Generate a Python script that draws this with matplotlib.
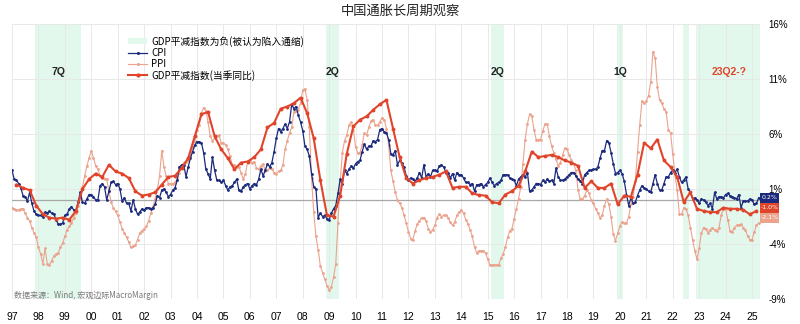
import matplotlib
matplotlib.use("Agg")
import matplotlib.pyplot as plt
import matplotlib.transforms as mtrans
from matplotlib.patches import Patch, Rectangle
from matplotlib.lines import Line2D

plt.rcParams['font.family'] = ['Noto Sans CJK SC', 'DejaVu Sans']

# ---- data -------------------------------------------------------------
# monthly series start in July 1997, quarterly series start in 1997Q3
first_month = (1997, 7)
first_quarter = (1997, 3)

cpi = [
    2.7, 1.9, 1.8, 1.5, 1.1, 0.4,                                   # 1997H2
    0.3, -0.1, 0.7, -0.3, -1.0, -1.3, -1.4, -1.4, -1.5, -1.1, -1.2, -1.0,   # 1998
    -1.2, -1.3, -1.8, -2.2, -2.2, -2.1, -1.4, -1.3, -0.8, -0.6, -0.9, -1.0,  # 1999
    -0.2, 0.7, -0.2, -0.3, 0.1, 0.5, 0.5, 0.3, 0.0, 0.0, 1.3, 1.5,       # 2000
    1.2, 0.0, 0.8, 1.6, 1.7, 1.4, 1.5, 1.0, -0.1, 0.2, -0.3, -0.3,       # 2001
    -1.0, 0.0, -0.8, -1.3, -1.1, -0.8, -0.9, -0.7, -0.7, -0.8, -0.7, -0.4,  # 2002
    0.4, 0.2, 0.9, 1.0, 0.7, 0.3, 0.5, 0.9, 1.1, 1.8, 3.0, 3.2,          # 2003
    3.2, 2.1, 3.0, 3.8, 4.4, 5.0, 5.3, 5.3, 5.2, 4.3, 2.8, 2.4,          # 2004
    1.9, 3.9, 2.7, 1.8, 1.8, 1.6, 1.8, 1.3, 0.9, 1.2, 1.3, 1.6,          # 2005
    1.9, 0.9, 0.8, 1.2, 1.4, 1.5, 1.0, 1.3, 1.5, 1.4, 1.9, 2.8,          # 2006
    2.2, 2.7, 3.3, 3.0, 3.4, 4.4, 5.6, 6.5, 6.2, 6.5, 6.9, 6.5,          # 2007
    7.1, 8.7, 8.3, 8.5, 7.7, 7.1, 6.3, 4.9, 4.6, 4.0, 2.4, 1.2,          # 2008
    1.0, -1.6, -1.2, -1.5, -1.4, -1.7, -1.8, -1.2, -0.8, -0.5, 0.6, 1.9,  # 2009
    1.5, 2.7, 2.4, 2.8, 3.1, 2.9, 3.3, 3.5, 3.6, 4.4, 5.1, 4.6,          # 2010
    4.9, 4.9, 5.4, 5.3, 5.5, 6.4, 6.5, 6.2, 6.1, 5.5, 4.2, 4.1,          # 2011
    4.5, 3.2, 3.6, 3.4, 3.0, 2.2, 1.8, 2.0, 1.9, 1.7, 2.0, 2.5,          # 2012
    2.0, 3.2, 2.1, 2.4, 2.1, 2.7, 2.7, 2.6, 3.1, 3.2, 3.0, 2.5,          # 2013
    2.5, 2.0, 2.4, 1.8, 2.5, 2.3, 2.3, 2.0, 1.6, 1.6, 1.4, 1.5,          # 2014
    0.8, 1.4, 1.4, 1.5, 1.2, 1.4, 1.6, 2.0, 1.6, 1.3, 1.5, 1.6,          # 2015
    1.8, 2.3, 2.3, 2.3, 2.0, 1.9, 1.8, 1.3, 1.9, 2.1, 2.3, 2.1,          # 2016
    2.5, 0.8, 0.9, 1.2, 1.5, 1.5, 1.4, 1.8, 1.6, 1.9, 1.7, 1.8,          # 2017
    1.5, 2.9, 2.1, 1.8, 1.8, 1.9, 2.1, 2.3, 2.5, 2.5, 2.2, 1.9,          # 2018
    1.7, 1.5, 2.3, 2.5, 2.7, 2.7, 2.8, 2.8, 3.0, 3.8, 4.5, 4.5,          # 2019
    5.4, 5.2, 4.3, 3.3, 2.4, 2.5, 2.7, 2.4, 1.7, 0.5, -0.5, 0.2,         # 2020
    -0.3, -0.2, 0.4, 0.9, 1.3, 1.1, 1.0, 0.8, 0.7, 1.5, 2.3, 1.5,        # 2021
    0.9, 0.9, 1.5, 2.1, 2.1, 2.5, 2.7, 2.5, 2.8, 2.1, 1.6, 1.8,          # 2022
    2.1, 1.0, 0.7, 0.1, 0.2, 0.0, -0.3, 0.1, 0.0, -0.2, -0.5, -0.3,      # 2023
    -0.8, 0.7, 0.1, 0.3, 0.3, 0.2, 0.5, 0.6, 0.4, 0.3, 0.2, 0.1,         # 2024
    0.5, -0.7, -0.1, -0.1, -0.1, 0.1, 0.0, -0.4, -0.3, 0.2,              # 2025
]

ppi = [
    -0.7, -0.8, -0.9, -0.9, -0.8, -0.8,                                  # 1997H2
    -1.2, -1.6, -1.9, -2.5, -3.0, -3.4, -4.3, -4.9, -5.8, -4.4, -5.8, -5.9,  # 1998
    -5.5, -5.1, -4.9, -4.8, -4.3, -3.9, -3.3, -2.7, -2.4, -2.1, -1.6, -1.2,  # 1999
    -0.5, 0.1, 1.2, 2.2, 3.1, 3.8, 4.5, 3.8, 3.1, 2.8, 2.2, 2.0,         # 2000
    1.9, 1.9, 0.8, -0.2, -0.7, -1.0, -1.4, -2.0, -2.6, -3.0, -3.4, -3.8,  # 2001
    -4.3, -4.2, -4.1, -3.6, -3.0, -2.8, -2.6, -2.4, -1.9, -1.2, -0.6, 0.1,  # 2002
    1.0, 2.2, 4.5, 3.0, 2.2, 1.5, 1.5, 1.5, 1.6, 1.9, 2.5, 3.1,          # 2003
    3.4, 3.5, 3.6, 4.0, 4.8, 5.4, 6.4, 6.8, 7.9, 8.4, 8.1, 7.1,          # 2004
    5.8, 5.4, 5.6, 5.8, 5.9, 5.2, 5.2, 5.0, 4.6, 4.0, 3.2, 3.2,          # 2005
    3.0, 3.0, 2.5, 1.9, 2.4, 3.5, 3.6, 3.4, 3.5, 2.9, 2.8, 3.1,          # 2006
    3.3, 2.6, 2.7, 2.9, 2.8, 2.5, 2.4, 2.6, 2.7, 3.2, 4.6, 5.4,          # 2007
    6.1, 6.6, 8.0, 8.1, 8.2, 8.8, 10.0, 10.1, 9.1, 6.6, 2.0, -1.1,       # 2008
    -3.3, -4.5, -6.0, -6.6, -7.2, -7.8, -8.2, -7.9, -7.0, -5.8, -2.1, 1.7,  # 2009
    4.3, 5.4, 5.9, 6.8, 7.1, 6.4, 4.8, 4.3, 4.3, 5.0, 6.1, 5.9,          # 2010
    6.6, 7.2, 7.3, 6.8, 6.8, 7.1, 7.5, 7.3, 6.5, 5.0, 2.7, 1.7,          # 2011
    0.7, 0.0, -0.3, -0.7, -1.4, -2.1, -2.9, -3.5, -3.6, -2.8, -2.2, -1.9,  # 2012
    -1.6, -1.6, -1.9, -2.6, -2.9, -2.7, -2.3, -1.6, -1.3, -1.5, -1.4, -1.4,  # 2013
    -1.6, -2.0, -2.3, -2.0, -1.4, -1.1, -0.9, -1.2, -1.8, -2.2, -2.7, -3.3,  # 2014
    -4.3, -4.8, -4.6, -4.6, -4.6, -4.8, -5.4, -5.9, -5.9, -5.9, -5.9, -5.9,  # 2015
    -5.3, -4.9, -4.3, -3.4, -2.8, -2.6, -1.7, -0.8, 0.1, 1.2, 3.3, 5.5,  # 2016
    6.9, 7.8, 7.6, 6.4, 5.5, 5.5, 5.5, 6.3, 6.9, 6.9, 5.8, 4.9,          # 2017
    4.3, 3.7, 3.1, 3.4, 4.1, 4.7, 4.6, 4.1, 3.6, 3.3, 2.7, 0.9,          # 2018
    0.1, 0.1, 0.4, 0.9, 0.6, 0.0, -0.3, -0.8, -1.2, -1.6, -1.4, -0.5,    # 2019
    0.1, -0.4, -1.5, -3.1, -3.7, -3.0, -2.4, -2.0, -2.1, -2.1, -1.5, -0.4,  # 2020
    0.3, 1.7, 4.4, 6.8, 9.0, 8.8, 9.0, 9.5, 10.7, 13.5, 12.9, 10.3,      # 2021
    9.1, 8.8, 8.3, 8.0, 6.4, 6.1, 4.2, 2.3, 0.9, -1.3, -1.3, -0.7,       # 2022
    -0.8, -1.4, -2.5, -3.6, -4.6, -5.4, -4.4, -3.0, -2.5, -2.6, -3.0, -2.7,  # 2023
    -2.5, -2.7, -2.8, -2.5, -1.4, -0.8, -0.8, -1.8, -2.8, -2.9, -2.5, -2.3,  # 2024
    -2.3, -2.2, -2.5, -2.7, -3.3, -3.6, -3.6, -2.9, -2.3, -2.1,          # 2025
]

# GDP deflator, single-quarter YoY, 1997Q3 .. 2025Q3
gdp_deflator = [
    1.4, 1.1,                          # 1997
    0.9, -0.5, -1.3, -1.6,             # 1998
    -1.7, -1.6, -1.8, -1.0,            # 1999
    1.0, 1.9, 2.4, 2.1,                # 2000
    3.2, 2.6, 2.4, 2.0,                # 2001
    0.8, 0.4, 0.5, 0.7,                # 2002
    1.4, 2.1, 2.2, 2.9,                # 2003
    3.8, 5.8, 7.8, 8.0,                # 2004
    5.8, 4.6, 3.8, 2.8,                # 2005
    3.4, 3.5, 3.9, 4.6,                # 2006
    6.6, 7.0, 8.3, 8.5,                # 2007
    8.8, 9.3, 7.9, 5.6,                # 2008
    1.8, -1.4, -1.5, 0.4,              # 2009
    4.2, 6.7, 7.3, 7.6,                # 2010
    8.2, 8.7, 9.1, 6.5,                # 2011
    3.9, 2.0, 1.5, 1.8,                # 2012
    2.0, 2.1, 2.3, 2.6,                # 2013
    1.1, 1.2, 1.2, 0.6,                # 2014
    0.45, 0.4, -0.2, -0.3,             # 2015
    0.5, 0.8, 1.3, 2.6,                # 2016
    4.4, 3.9, 4.0, 4.1,                # 2017
    3.9, 3.6, 3.4, 3.1,                # 2018
    1.1, 1.7, 1.1, 1.1,                # 2019
    1.5, -0.4, 0.4, 0.3,               # 2020
    2.3, 5.2, 4.7, 5.5,                # 2021
    3.6, 3.0, 2.1, -0.2,               # 2022
    0.7, -0.8, -1.0, -1.1,             # 2023
    -1.1, -0.7, -0.8, -0.8,            # 2024
    -0.9, -1.3, -1.0,                  # 2025
]

year_labels = [f"{y % 100:02d}" for y in range(1997, 2026)]
y_ticks = [-9, -4, 1, 6, 11, 16]
run_labels = ["7Q", "2Q", "2Q", "1Q", None, "23Q2-?"]

title = "中国通胀长周期观察"
source = "数据来源：Wind, 宏观边际MacroMargin"
legend_labels = ["GDP平减指数为负(被认为陷入通缩)", "CPI", "PPI", "GDP平减指数(当季同比)"]

# ---- styling ----------------------------------------------------------
C_CPI = "#1c2a7c"
C_PPI = "#eba38d"
C_GDP = "#e0452b"
C_SHADE = "#e2f8ed"
C_GRID = "#e8e8e8"

# ---- time coordinates (decimal years, month start) ---------------------
t0_m = first_month[0] + (first_month[1] - 1) / 12
t_month = [t0_m + k / 12 for k in range(len(cpi))]
# quarterly points sit on the quarter's last month
t0_q = first_quarter[0] + (3 * first_quarter[1] - 1) / 12
t_quarter = [t0_q + 0.25 * k for k in range(len(gdp_deflator))]

fig = plt.figure(figsize=(8.0, 3.24), dpi=100)
ax = fig.add_axes([12 / 800, 25 / 324, 748 / 800, 275 / 324])
ax.set_xlim(1997.5, 1997.5 + 748 / 26.43)
ax.set_ylim(-9, 16)

# shaded quarters where the deflator is negative (merged into runs)
runs = []
for t, v in zip(t_quarter, gdp_deflator):
    if v < 0:
        lo, hi = t + 1 / 12 - 0.125, t + 1 / 12 + 0.125
        if runs and abs(runs[-1][1] - lo) < 1e-6:
            runs[-1][1] = hi
        else:
            runs.append([lo, hi])
for (lo, hi), lab in zip(runs, run_labels):
    ax.axvspan(lo, hi, color=C_SHADE, lw=0, zorder=0)
    if lab:
        ax.text((lo + hi) / 2, 11.6, lab, ha="center", va="center",
                fontsize=7.5, fontweight="bold",
                color=C_GDP if "?" in lab else "#222222",
                family=["Liberation Sans", "DejaVu Sans"], zorder=5)

# grid
for yt in y_ticks:
    ax.axhline(yt, color=C_GRID, lw=0.7, zorder=0.5)
for k in range(len(year_labels)):
    ax.axvline(1997.5 + k, color=C_GRID, lw=0.7, zorder=0.5)
ax.axhline(0, color="#a8a8a8", lw=0.9, zorder=1)

# series
ax.plot(t_month, ppi, color=C_PPI, lw=0.8, marker="o", ms=1.0, zorder=2)
ax.plot(t_month, cpi, color=C_CPI, lw=0.9, marker="o", ms=1.0, zorder=3)
ax.plot(t_quarter, gdp_deflator, color=C_GDP, lw=1.5, marker="o", ms=1.8, zorder=4)

# axes & ticks
for s in ax.spines.values():
    s.set_visible(False)
ax.yaxis.tick_right()
ax.set_yticks(y_ticks)
ax.set_yticklabels([f"{v}%" for v in y_ticks], family=["Liberation Sans", "DejaVu Sans"],
                   fontsize=7)
ax.set_xticks([1997.5 + k for k in range(len(year_labels))])
ax.set_xticklabels(year_labels, family=["Liberation Sans", "DejaVu Sans"], fontsize=7.5)
ax.tick_params(axis="both", length=0)
ax.tick_params(axis="x", pad=9)
ax.tick_params(axis="y", pad=6)

# latest-value tags at the right edge
trans = mtrans.blended_transform_factory(ax.transAxes, ax.transData)
box_h = 0.9
latest = [(cpi[-1], C_CPI), (gdp_deflator[-1], C_GDP), (ppi[-1], C_PPI)]
center = cpi[-1]
for v, c in latest:
    ax.add_patch(Rectangle((1.0, center - box_h / 2), 0.025, box_h, transform=trans,
                           facecolor=c, edgecolor="none", clip_on=False, zorder=6))
    ax.text(1.0125, center, f"{v:.1f}%", transform=trans, ha="center", va="center",
            fontsize=4.5, color="white", family=["DejaVu Sans"], clip_on=False, zorder=7)
    center -= box_h

# legend
handles = [
    Patch(facecolor=C_SHADE, edgecolor="none"),
    Line2D([], [], color=C_CPI, lw=0.9, marker="o", ms=1.2),
    Line2D([], [], color=C_PPI, lw=0.8, marker="o", ms=1.2),
    Line2D([], [], color=C_GDP, lw=1.5, marker="o", ms=2.0),
]
ax.legend(handles, legend_labels, loc="upper left",
          bbox_to_anchor=((128 - 12) / 748, (299 - 36) / 275),
          frameon=False, fontsize=7, handlelength=2.0, handleheight=0.6,
          handletextpad=0.4, labelspacing=0.1, borderpad=0, borderaxespad=0)

fig.text(0.5, 1 - 11 / 324, title, ha="center", va="center", fontsize=9.5, color="#222222")
fig.text(14 / 800, 1 - 296 / 324, source, ha="left", va="center", fontsize=5.8, color="#7a7a7a")

fig.savefig("out.png", dpi=100, facecolor="white")
